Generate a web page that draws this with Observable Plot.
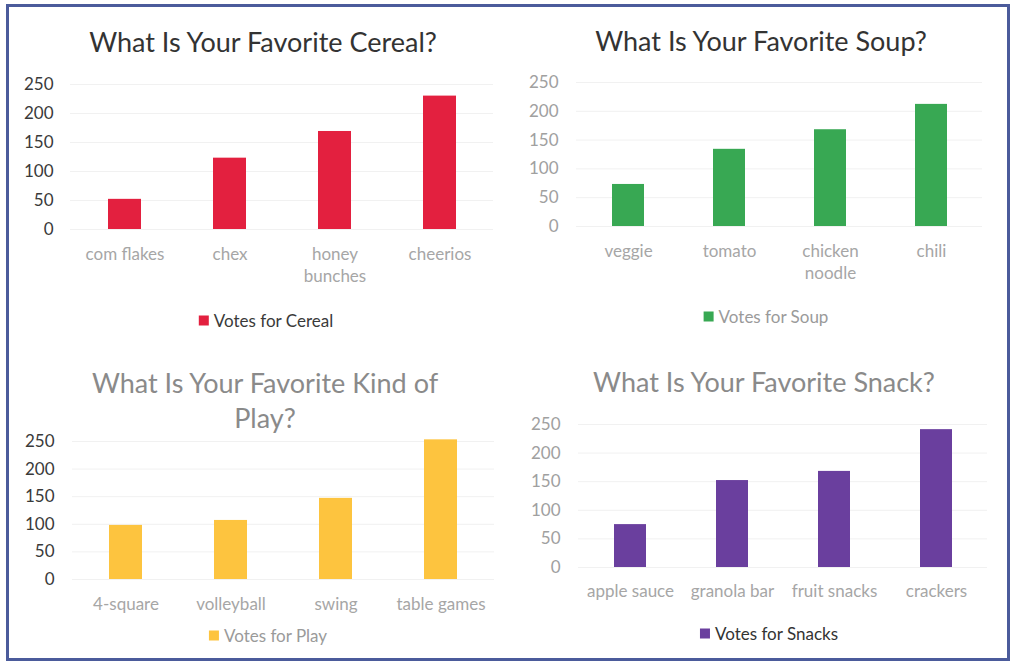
<!DOCTYPE html>
<html><head><meta charset="utf-8">
<script src="https://cdn.jsdelivr.net/npm/d3@7"></script>
<script src="https://cdn.jsdelivr.net/npm/@observablehq/plot@0.6"></script>
<style>
body{margin:0;background:#fff;font-family:Lato,sans-serif}
#root{position:relative;width:1013px;height:664px;overflow:hidden;background:#fff}
.frame{position:absolute;left:6px;top:4px;width:998px;height:651px;border:3px solid #4b5b9b}
.t{position:absolute;transform:translate(-50%,-50%);white-space:nowrap;font-size:27px;line-height:35px;text-align:center}
.lg{position:absolute;transform:translate(-50%,-50%);white-space:nowrap;font-size:17px;display:flex;align-items:center}
.lg i{display:inline-block;width:10px;height:10px;margin-right:5px}
.p{position:absolute}
.p svg{overflow:visible}
</style></head><body><div id="root"><div class="frame"></div></div>
<script>
const yTicks = [0, 50, 100, 150, 200, 250];

const cerealCategories = ["corn flakes", "chex", "honey bunches", "cheerios"];
const cerealLabels = ["com flakes", "chex", "honey\nbunches", "cheerios"];
const cerealVotes = [52, 123, 169, 230];

const soupCategories = ["veggie", "tomato", "chicken noodle", "chili"];
const soupLabels = ["veggie", "tomato", "chicken\nnoodle", "chili"];
const soupVotes = [73, 134, 168, 212];

const playCategories = ["4-square", "volleyball", "swing", "table games"];
const playLabels = ["4-square", "volleyball", "swing", "table games"];
const playVotes = [98, 107, 147, 253];

const snackCategories = ["apple sauce", "granola bar", "fruit snacks", "crackers"];
const snackLabels = ["apple sauce", "granola bar", "fruit snacks", "crackers"];
const snackVotes = [75, 152, 168, 241];

const root = document.getElementById("root");

function panel(cfg) {
  const data = cfg.categories.map((c, i) => ({category: c, votes: cfg.values[i]}));
  const labelOf = new Map(cfg.categories.map((c, i) => [c, cfg.labels[i]]));
  const pi = 1 - cfg.barWidth / ((cfg.width - cfg.ml - cfg.mr) / cfg.categories.length);
  const chart = Plot.plot({
    width: cfg.width, height: cfg.height,
    marginLeft: cfg.ml, marginRight: cfg.mr, marginTop: cfg.mt, marginBottom: cfg.mb,
    style: {fontFamily: "Lato, sans-serif", fontSize: "17px", background: "transparent"},
    x: {domain: cfg.categories, paddingInner: pi, paddingOuter: pi / 2, axis: null},
    y: {domain: [0, 250], axis: null},
    marks: [
      Plot.ruleY(yTicks, {stroke: "#f1f1f1"}),
      Plot.barY(data, {x: "category", y: "votes", fill: cfg.color}),
      Plot.axisY(yTicks, {tickSize: 0, tickPadding: cfg.yPad, fill: cfg.yColor, fontSize: 17, label: null}),
      Plot.axisX({tickSize: 0, tickPadding: cfg.xPad, fill: "#a6a6a6", fontSize: 17, lineHeight: 1.3,
        label: null, tickFormat: d => labelOf.get(d)})
    ]
  });
  const div = document.createElement("div");
  div.className = "p";
  div.style.left = cfg.left + "px";
  div.style.top = cfg.top + "px";
  div.appendChild(chart);
  root.appendChild(div);

  const t = document.createElement("div");
  t.className = "t";
  t.style.left = cfg.titleX + "px";
  t.style.top = cfg.titleY + "px";
  t.style.color = cfg.titleColor;
  t.innerHTML = cfg.title;
  root.appendChild(t);

  const lg = document.createElement("div");
  lg.className = "lg";
  lg.style.left = cfg.legendX + "px";
  lg.style.top = cfg.legendY + "px";
  lg.style.color = cfg.legendColor;
  const sw = document.createElement("i");
  sw.style.background = cfg.color;
  lg.appendChild(sw);
  lg.appendChild(document.createTextNode(cfg.legend));
  root.appendChild(lg);
}

panel({categories: cerealCategories, labels: cerealLabels, values: cerealVotes,
  color: "#e3203f", left: 0, top: 64, width: 506, height: 225, ml: 70, mr: 13, mt: 20, mb: 60,
  barWidth: 33, yPad: 17, xPad: 15, yColor: "#3a3a3a",
  title: "What Is Your Favorite Cereal?", titleX: 263, titleY: 41, titleColor: "#333",
  legend: "Votes for Cereal", legendX: 266, legendY: 320, legendColor: "#3a3a3a"});

panel({categories: soupCategories, labels: soupLabels, values: soupVotes,
  color: "#38a853", left: 506, top: 62, width: 507, height: 224, ml: 70, mr: 31, mt: 20, mb: 60,
  barWidth: 32, yPad: 18, xPad: 15, yColor: "#a0a0a0",
  title: "What Is Your Favorite Soup?", titleX: 761, titleY: 40, titleColor: "#333",
  legend: "Votes for Soup", legendX: 766, legendY: 316, legendColor: "#9a9a9a"});

panel({categories: playCategories, labels: playLabels, values: playVotes,
  color: "#fdc43f", left: 0, top: 421, width: 506, height: 198, ml: 72, mr: 12, mt: 20, mb: 40,
  barWidth: 33, yPad: 18, xPad: 15, yColor: "#3a3a3a",
  title: "What Is Your Favorite Kind of<br>Play?", titleX: 265, titleY: 400, titleColor: "#8a8a8a",
  legend: "Votes for Play", legendX: 268, legendY: 635, legendColor: "#9a9a9a"});

panel({categories: snackCategories, labels: snackLabels, values: snackVotes,
  color: "#6a3f9e", left: 506, top: 404, width: 507, height: 203, ml: 72, mr: 26, mt: 20, mb: 40,
  barWidth: 32, yPad: 18, xPad: 14, yColor: "#a0a0a0",
  title: "What Is Your Favorite Snack?", titleX: 764, titleY: 381, titleColor: "#8a8a8a",
  legend: "Votes for Snacks", legendX: 769, legendY: 633, legendColor: "#333"});
</script>
</body></html>
